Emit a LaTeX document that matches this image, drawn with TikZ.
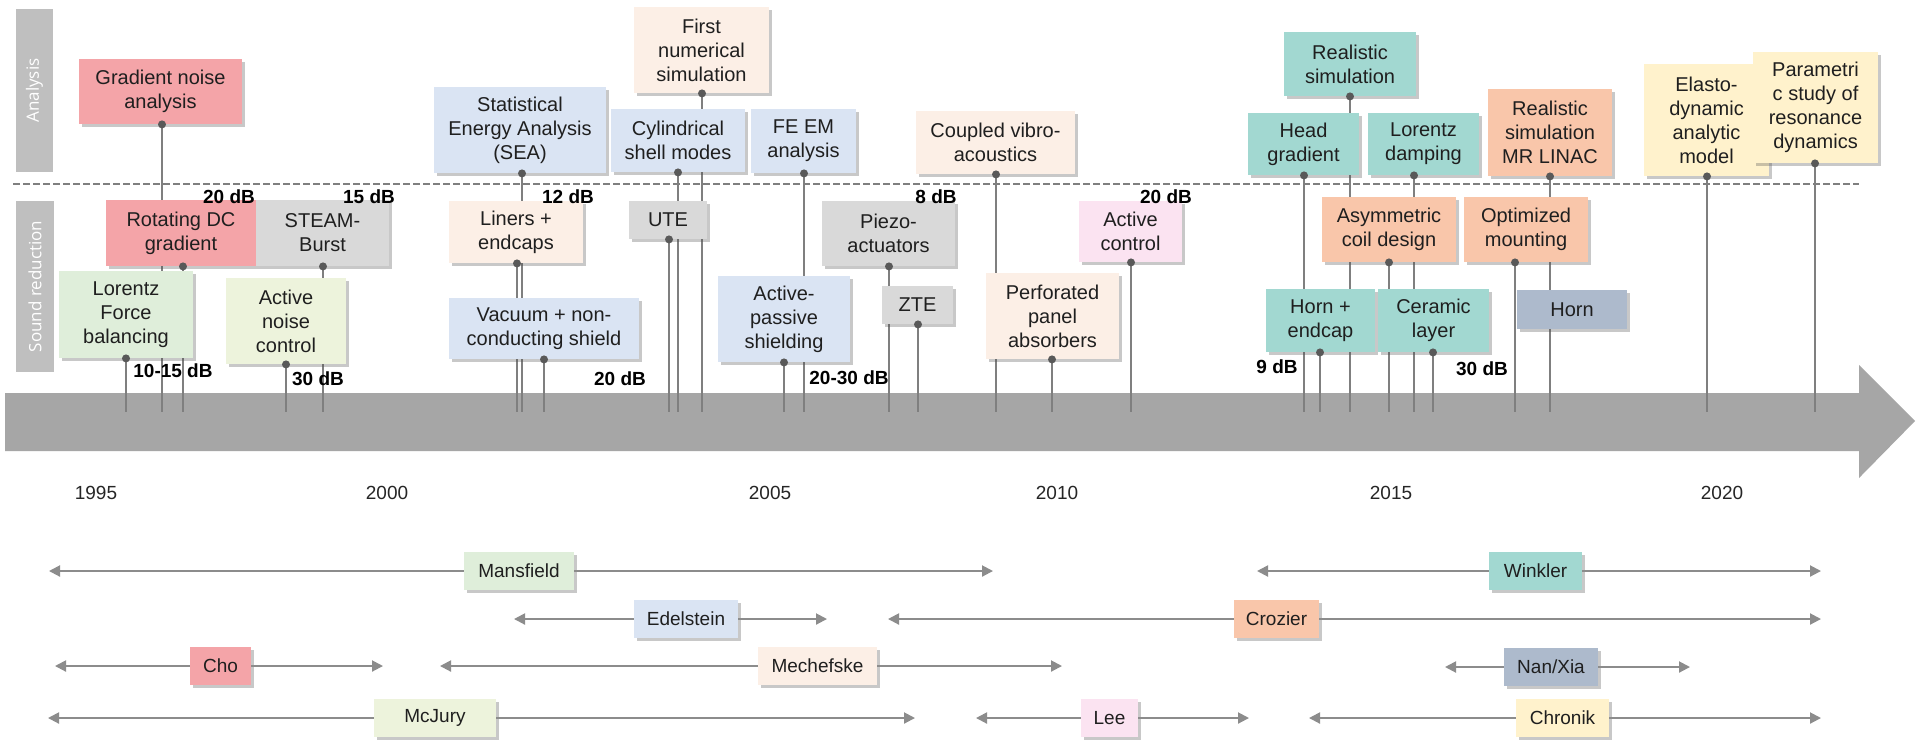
\documentclass[tikz,border=0pt]{standalone}
\usepackage{fontspec}
\setmainfont{Liberation Sans}
\newfontfamily\sidefont{Open Sans}
\usetikzlibrary{shadows,arrows.meta,backgrounds}
\pgfdeclarelayer{bottom}
\pgfsetlayers{bottom,background,main}
\definecolor{cRed}{HTML}{F4A4A8}
\definecolor{cGray}{HTML}{D9D9D9}
\definecolor{cGreen}{HTML}{DFEEDA}
\definecolor{cLime}{HTML}{EDF3DC}
\definecolor{cBlue}{HTML}{DAE4F3}
\definecolor{cPeach}{HTML}{FCEFE6}
\definecolor{cPink}{HTML}{FBE3F1}
\definecolor{cTeal}{HTML}{A2D8D1}
\definecolor{cSalmon}{HTML}{F9C6AA}
\definecolor{cSlate}{HTML}{ADBACC}
\definecolor{cYellow}{HTML}{FFF2CC}
\definecolor{cBar}{HTML}{A6A6A6}
\definecolor{cSide}{HTML}{BFBFBF}
\definecolor{cLine}{HTML}{7F7F7F}
\definecolor{cDot}{HTML}{595959}
\definecolor{cSpan}{HTML}{8C8C8C}
\tikzset{
 tb/.style={rectangle, inner sep=0pt, align=center, font=\fontsize{10}{12}\selectfont, text=black!88,
   drop shadow={shadow xshift=1.6pt, shadow yshift=-1.6pt, opacity=0.3, fill=black!70}},
 ab/.style={tb, font=\fontsize{9.5}{11}\selectfont, minimum height=19pt},
 connline/.style={draw=cLine, line width=0.6pt},
 dblabel/.style={font=\fontsize{9.5}{11}\selectfont\bfseries, inner sep=0pt, text=black},
 authspan/.style={draw=cSpan, line width=1pt, -{Triangle[length=5.5pt,width=5.5pt]}},
 yearlbl/.style={font=\fontsize{9.5}{11}\selectfont, text=black!85, inner sep=0pt},
 sidebar/.style={fill=cSide, rotate=90, inner sep=0pt, text=white, font=\sidefont\fontsize{8.5}{10}\selectfont},
 dashln/.style={draw=cLine, line width=0.75pt, dash pattern=on 3.5pt off 1.5pt},
}
\newcommand\mkbox[7]{%
 \pgfmathsetmacro\bw{(#4-#2)*0.5}%
 \pgfmathsetmacro\bh{(#5-#3)*0.5}%
 \node[tb, fill=#6, minimum width=\bw pt, minimum height=\bh pt] (#1) at ({(#2+#4)/2},{(#3+#5)/2}) {#7};}
\newcommand\mkconn[2]{%
 \coordinate (#1-x) at (#2,0);
 \coordinate (#1-d) at (#1.south -| #1-x);
 \coordinate (#1-t) at (#2,412);
 \begin{pgfonlayer}{background}\draw[connline] (#1-d) -- (#1-t);\end{pgfonlayer}
 \fill[cDot] (#1-d) circle (2pt);}
\newcommand\mkauth[8]{%
 \pgfmathsetmacro\bw{(#3-#2)*0.5}%
 \node[ab, fill=#5, minimum width=\bw pt] (#1) at ({(#2+#3)/2},#4) {#6};
 \coordinate (#1-l) at (#7,#4);
 \coordinate (#1-r) at (#8,#4);
 \draw[authspan] (#1.west) -- (#1-l);
 \draw[authspan] (#1.east) -- (#1-r);}
\begin{document}
\begin{tikzpicture}[x=0.5pt,y=-0.5pt]
\useasboundingbox (0,0) rectangle (1920,752);
\begin{pgfonlayer}{bottom}
\fill[white] (0,0) rectangle (1920,752);
\fill[cBar] (5,393) -- (1859,393) -- (1859,365) -- (1915,421) -- (1859,478) -- (1859,451) -- (5,451) -- cycle;
\end{pgfonlayer}
% side bars
\node[sidebar, minimum width=81.5pt, minimum height=18.5pt] (anbar) at (34.5,90.5) {Analysis};
\node[sidebar, minimum width=85.5pt, minimum height=19pt] (srbar) at (35,286.5) {Sound reduction};
% dashed separator
\coordinate (dl-a) at (13,184);
\coordinate (dl-b) at (1859,184);
\begin{pgfonlayer}{background}\draw[dashln] (dl-a) -- (dl-b);\end{pgfonlayer}
% analysis boxes
\mkbox{gna}{79}{59}{242}{124}{cRed}{Gradient noise\\analysis}
\mkconn{gna}{162}
\mkbox{sea}{434}{87}{606}{173}{cBlue}{Statistical\\Energy Analysis\\(SEA)}
\mkconn{sea}{522}
\mkbox{fns}{634}{7}{769}{93}{cPeach}{First\\numerical\\simulation}
\mkconn{fns}{702}
\mkbox{csm}{611}{109}{745}{172}{cBlue}{Cylindrical\\shell modes}
\mkconn{csm}{678}
\mkbox{fem}{751}{109}{856}{173}{cBlue}{FE EM\\analysis}
\mkconn{fem}{804}
\mkbox{cva}{916}{111}{1075}{174}{cPeach}{Coupled vibro-\\acoustics}
\mkconn{cva}{996}
\mkbox{rsim}{1284}{32}{1416}{96}{cTeal}{Realistic\\simulation}
\mkconn{rsim}{1350}
\mkbox{hg}{1248}{113}{1359}{175}{cTeal}{Head\\gradient}
\mkconn{hg}{1304}
\mkbox{ld}{1368}{113}{1479}{175}{cTeal}{Lorentz\\damping}
\mkconn{ld}{1414}
\mkbox{mrl}{1488}{89}{1612}{176}{cSalmon}{Realistic\\simulation\\MR LINAC}
\mkconn{mrl}{1550}
\mkbox{eam}{1644}{64}{1769}{176}{cYellow}{Elasto-\\dynamic\\analytic\\model}
\mkconn{eam}{1707}
\mkbox{psr}{1753}{52}{1878}{163}{cYellow}{Parametri\\c study of\\resonance\\dynamics}
\mkconn{psr}{1815}
% sound reduction boxes
\mkbox{rdc}{106}{200}{256}{266}{cRed}{Rotating DC\\gradient}
\mkconn{rdc}{183}
\mkbox{stb}{256}{200}{389}{266}{cGray}{STEAM-\\Burst}
\mkconn{stb}{323}
\mkbox{lfb}{59}{271}{193}{358}{cGreen}{Lorentz\\Force\\balancing}
\mkconn{lfb}{126}
\mkbox{anc}{226}{278}{346}{364}{cLime}{Active\\noise\\control}
\mkconn{anc}{286}
\mkbox{lin}{449}{201}{583}{263}{cPeach}{Liners +\\endcaps}
\mkconn{lin}{517}
\mkbox{vac}{449}{298}{639}{359}{cBlue}{Vacuum + non-\\conducting shield}
\mkconn{vac}{544}
\mkbox{ute}{629}{201}{707}{239}{cGray}{UTE}
\mkconn{ute}{669}
\mkbox{aps}{718}{276}{850}{362}{cBlue}{Active-\\passive\\shielding}
\mkconn{aps}{784}
\mkbox{pzo}{822}{201}{955}{266}{cGray}{Piezo-\\actuators}
\mkconn{pzo}{889}
\mkbox{zte}{882}{286}{953}{324}{cGray}{ZTE}
\mkconn{zte}{918}
\mkbox{ppa}{986}{273}{1119}{359}{cPeach}{Perforated\\panel\\absorbers}
\mkconn{ppa}{1052}
\mkbox{acn}{1079}{201}{1182}{262}{cPink}{Active\\control}
\mkconn{acn}{1131}
\mkbox{acd}{1322}{197}{1456}{262}{cSalmon}{Asymmetric\\coil design}
\mkconn{acd}{1389}
\mkbox{opt}{1464}{197}{1588}{262}{cSalmon}{Optimized\\mounting}
\mkconn{opt}{1515}
\mkbox{hen}{1266}{289}{1375}{352}{cTeal}{Horn +\\endcap}
\mkconn{hen}{1320}
\mkbox{cer}{1378}{289}{1489}{352}{cTeal}{Ceramic\\layer}
\mkconn{cer}{1433}
\mkbox{horn}{1517}{290}{1627}{329}{cSlate}{Horn}
% dB labels
\node[dblabel] (db1) at (229,197) {20 dB};
\node[dblabel] (db2) at (369,197) {15 dB};
\node[dblabel] (db3) at (173,371) {10-15 dB};
\node[dblabel] (db4) at (318,379) {30 dB};
\node[dblabel] (db5) at (568,197) {12 dB};
\node[dblabel] (db6) at (620,379) {20 dB};
\node[dblabel] (db7) at (849,378) {20-30 dB};
\node[dblabel] (db8) at (936,197) {8 dB};
\node[dblabel] (db9) at (1166,197) {20 dB};
\node[dblabel] (db10) at (1277,367) {9 dB};
\node[dblabel] (db11) at (1482,369) {30 dB};
% years
\node[yearlbl] (y1995) at (96,493) {1995};
\node[yearlbl] (y2000) at (387,493) {2000};
\node[yearlbl] (y2005) at (770,493) {2005};
\node[yearlbl] (y2010) at (1057,493) {2010};
\node[yearlbl] (y2015) at (1391,493) {2015};
\node[yearlbl] (y2020) at (1722,493) {2020};
% authors
\mkauth{mans}{464}{574}{571}{cGreen}{Mansfield}{49}{993}
\mkauth{wink}{1489}{1582}{571}{cTeal}{Winkler}{1257}{1821}
\mkauth{edel}{634}{738}{619}{cBlue}{Edelstein}{514}{827}
\mkauth{croz}{1234}{1319}{619}{cSalmon}{Crozier}{888}{1821}
\mkauth{cho}{190}{251}{666}{cRed}{Cho}{55}{383}
\mkauth{mech}{758}{877}{666}{cPeach}{Mechefske}{440}{1062}
\mkauth{nanx}{1504}{1598}{667}{cSlate}{Nan/Xia}{1445}{1690}
\mkauth{mcj}{374}{496}{718}{cLime}{McJury}{48}{915}
\mkauth{lee}{1081}{1138}{718}{cPink}{Lee}{976}{1249}
\mkauth{chro}{1516}{1609}{718}{cYellow}{Chronik}{1309}{1821}
\end{tikzpicture}
\end{document}
